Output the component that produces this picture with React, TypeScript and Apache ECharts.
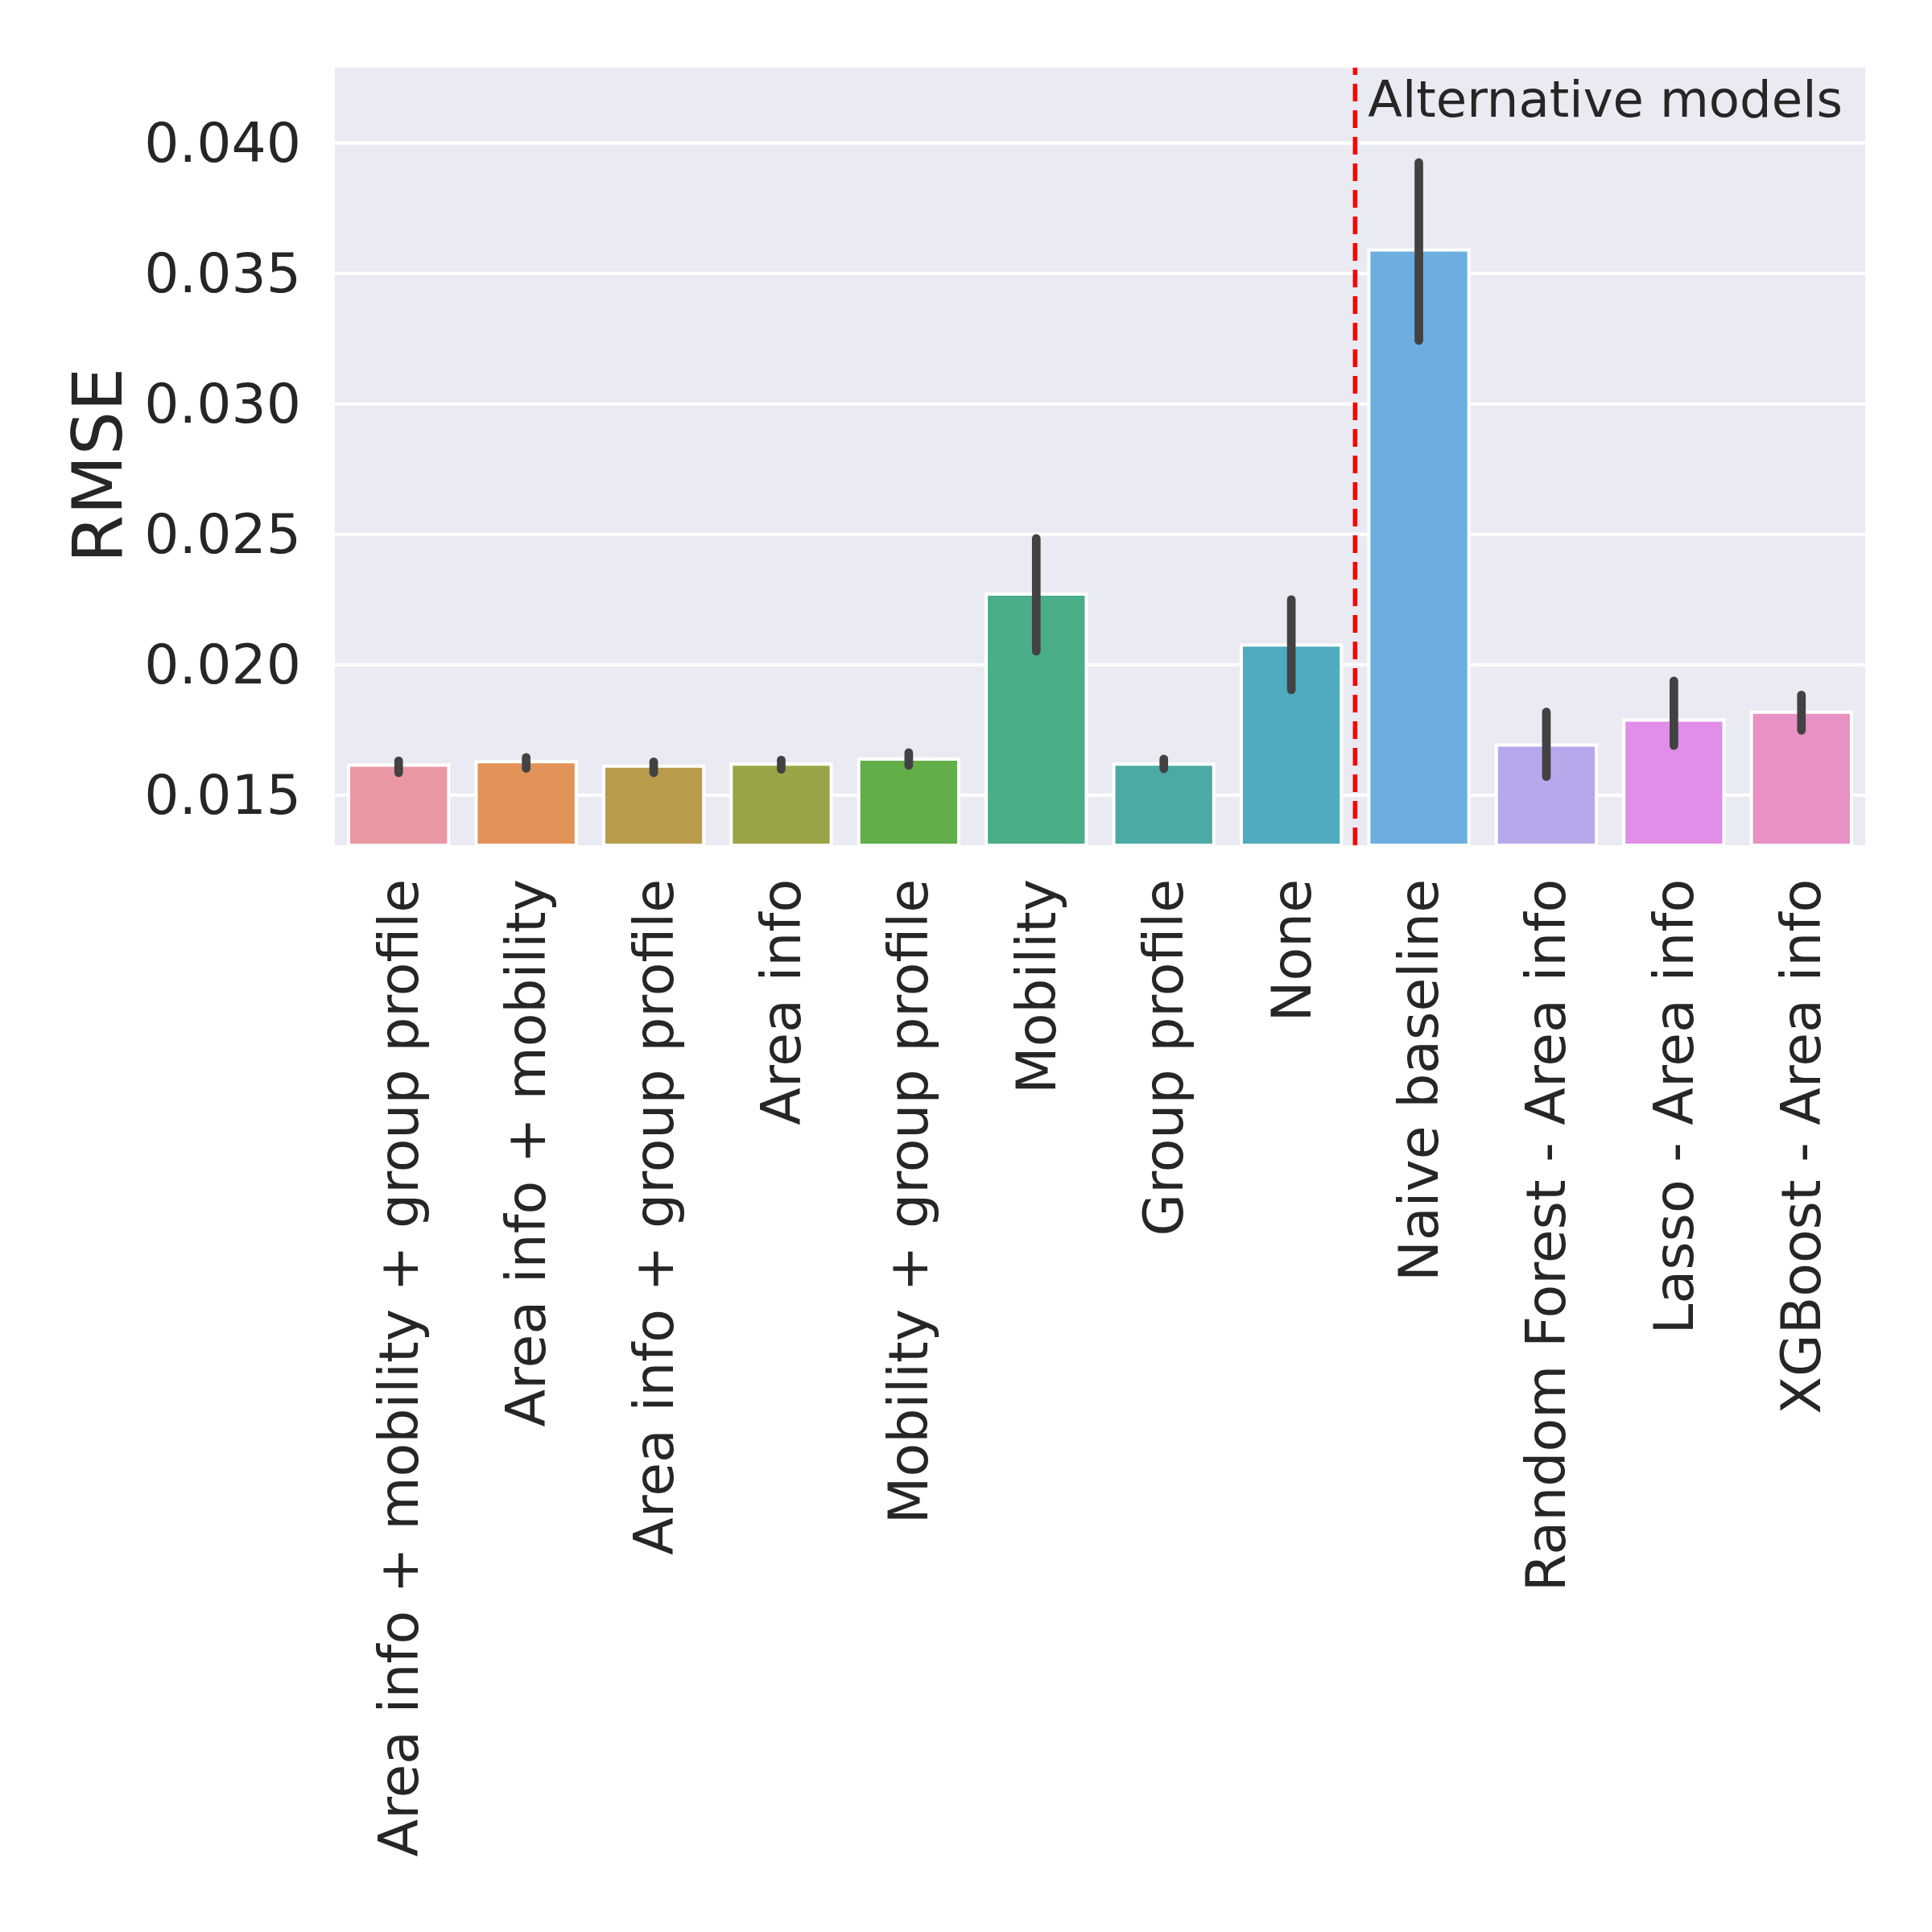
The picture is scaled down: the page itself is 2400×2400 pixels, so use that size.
import React, { useEffect, useRef } from "react";
import * as echarts from "echarts";

const categories = [
  "Area info + mobility + group profile",
  "Area info + mobility",
  "Area info + group profile",
  "Area info",
  "Mobility + group profile",
  "Mobility",
  "Group profile",
  "None",
  "Naive baseline",
  "Random Forest - Area info",
  "Lasso - Area info",
  "XGBoost - Area info",
];
const rmseMean = [0.01621, 0.01634, 0.01617, 0.01625, 0.01644, 0.02277, 0.01625, 0.02082, 0.03596, 0.01698, 0.01794, 0.01824];
const ciLow = [0.01586, 0.01603, 0.01586, 0.01599, 0.01614, 0.02052, 0.01601, 0.01904, 0.03243, 0.01571, 0.0169, 0.01749];
const ciHigh = [0.01632, 0.01645, 0.01628, 0.01635, 0.01663, 0.02484, 0.01639, 0.0225, 0.03925, 0.01819, 0.01938, 0.01884];
const barColors = [
  "#EA97A4", "#E19257", "#B89B4B", "#9AA446", "#62AE49", "#4AAE88",
  "#4BABA4", "#50ABBF", "#6DAEE0", "#B6A8EA", "#E08EE8", "#E991C4",
];
const yTicks = [0.015, 0.02, 0.025, 0.03, 0.035, 0.04];
const yMin = 0.01308;
const yMax = 0.04289;
const separatorAt = 7.5;
const annotationText = "Alternative models";
const annotationX = 7.6;
const annotationY = 0.041;

const FONT = "DejaVu Sans";
const TEXT = "#262626";

function coordAt(api: any, x: number, y: number) {
  const i = Math.floor(x);
  const f = x - i;
  const a = api.coord([i, y]);
  const b = api.coord([i + 1, y]);
  return [a[0] + (b[0] - a[0]) * f, a[1]];
}

export default function App() {
  const ref = useRef<HTMLDivElement>(null);
  useEffect(() => {
    if (!ref.current) return;
    const chart = echarts.init(ref.current, undefined, { renderer: "svg" });
    chart.setOption({
      animation: false,
      backgroundColor: "#ffffff",
      grid: {
        left: 416,
        right: 83,
        top: 84,
        bottom: 1350,
        show: true,
        backgroundColor: "#EAEAF2",
        borderWidth: 0,
        containLabel: false,
        outerBoundsMode: "none",
      },
      xAxis: {
        type: "category",
        data: categories,
        boundaryGap: true,
        axisLine: { show: false },
        axisTick: { show: false },
        splitLine: { show: false },
        axisLabel: {
          rotate: 90,
          interval: 0,
          margin: 42,
          fontSize: 68,
          fontFamily: FONT,
          color: TEXT,
        },
      },
      yAxis: {
        type: "value",
        min: yMin,
        max: yMax,
        splitNumber: 6,
        axisLine: { show: false },
        axisTick: { show: false },
        splitLine: { show: false },
        axisLabel: {
          margin: 42,
          fontSize: 68,
          fontFamily: FONT,
          color: TEXT,
          showMinLabel: false,
          showMaxLabel: false,
          formatter: (v: number) =>
            yTicks.some((t) => Math.abs(t - v) < 1e-9) ? v.toFixed(3) : "",
        },
        name: "RMSE",
        nameLocation: "middle",
        nameGap: 252,
        nameTextStyle: { fontSize: 86, fontFamily: FONT, color: TEXT, padding: [0, 22, 0, 0] },
      },
      series: [
        {
          type: "custom",
          z: 1,
          silent: true,
          data: yTicks.map((v) => [0, v]),
          renderItem: (params: any, api: any) => {
            const cs = params.coordSys;
            const y = api.coord([0, api.value(1)])[1];
            return {
              type: "line",
              shape: { x1: cs.x, y1: y, x2: cs.x + cs.width, y2: y },
              style: { stroke: "#ffffff", lineWidth: 4 },
            };
          },
        },
        {
          type: "bar",
          z: 2,
          barWidth: "81%",
          data: rmseMean.map((v, i) => ({ value: v, itemStyle: { color: barColors[i] } })),
          itemStyle: { borderColor: "#ffffff", borderWidth: 4 },
        },
        {
          type: "custom",
          z: 3,
          silent: true,
          data: ciLow.map((lo, i) => [i, lo, ciHigh[i]]),
          renderItem: (params: any, api: any) => {
            const i = api.value(0);
            const p1 = api.coord([i, api.value(1)]);
            const p2 = api.coord([i, api.value(2)]);
            return {
              type: "line",
              shape: { x1: p1[0], y1: p1[1], x2: p2[0], y2: p2[1] },
              style: { stroke: "#424242", lineWidth: 10.7, lineCap: "round" },
            };
          },
        },
        {
          type: "custom",
          z: 4,
          silent: true,
          data: [[separatorAt, annotationY]],
          renderItem: (params: any, api: any) => {
            const cs = params.coordSys;
            const lx = coordAt(api, api.value(0), yMin)[0];
            const tp = coordAt(api, annotationX, api.value(1));
            return {
              type: "group",
              children: [
                {
                  type: "line",
                  shape: { x1: lx, y1: cs.y + cs.height, x2: lx, y2: cs.y },
                  style: { stroke: "#FF0000", lineWidth: 5.5, lineDash: [22, 11] },
                },
                {
                  type: "text",
                  style: {
                    text: annotationText,
                    x: tp[0],
                    y: tp[1] - 22,
                    fontSize: 62.5,
                    fontFamily: FONT,
                    fill: TEXT,
                    align: "left",
                    verticalAlign: "middle",
                  },
                },
              ],
            };
          },
        },
      ],
    });
    return () => chart.dispose();
  }, []);
  return (
    <div
      ref={ref}
      style={{ position: "absolute", left: 0, top: 0, width: 2400, height: 2400, background: "#fff" }}
    />
  );
}
